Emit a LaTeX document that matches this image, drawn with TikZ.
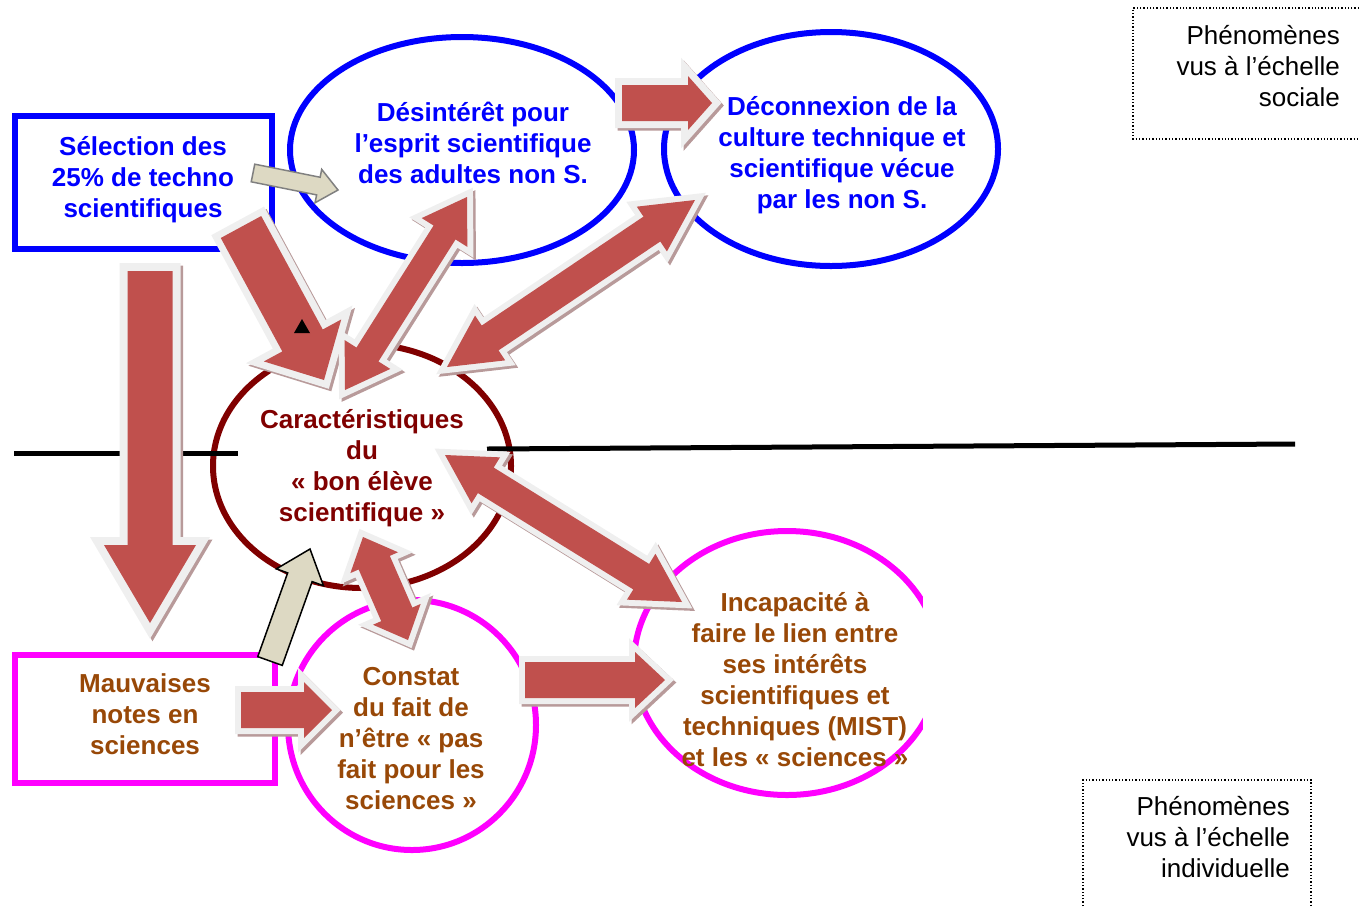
\documentclass[tikz,border=0pt]{standalone}
\usepackage{fontspec}
\setmainfont{Liberation Sans}
\usetikzlibrary{calc,shapes.geometric}

\definecolor{arrowred}{HTML}{C0504D}
\definecolor{glowgray}{HTML}{EFEFEF}
\definecolor{shadowpink}{HTML}{B89A9A}
\definecolor{beige}{HTML}{DDD9C3}
\definecolor{ovalblue}{HTML}{0000FF}
\definecolor{ovalred}{HTML}{800000}
\definecolor{ovalpink}{HTML}{FF00FF}
\definecolor{txtbrown}{HTML}{984807}

% single block arrow: [style]{from}{to}{shaft half width}{head half width}{head length}
\newcommand{\blockarrow}[6][redarr]{%
  \coordinate (ta) at (#2);
  \coordinate (tb) at (#3);
  \coordinate (th) at ($(tb)!#6pt!(ta)$);
  \fill[#1] ($(ta)!#4pt!90:(tb)$) -- ($(th)!#4pt!90:(tb)$) -- ($(th)!#5pt!90:(tb)$)
    -- (tb) -- ($(th)!#5pt!-90:(tb)$) -- ($(th)!#4pt!-90:(tb)$) -- ($(ta)!#4pt!-90:(tb)$) -- cycle;
}
% double block arrow
\newcommand{\dblockarrow}[6][redarr]{%
  \coordinate (ta) at (#2);
  \coordinate (tb) at (#3);
  \coordinate (tha) at ($(ta)!#6pt!(tb)$);
  \coordinate (thb) at ($(tb)!#6pt!(ta)$);
  \fill[#1] (ta) -- ($(tha)!#5pt!90:(tb)$) -- ($(tha)!#4pt!90:(tb)$) -- ($(thb)!#4pt!90:(tb)$)
    -- ($(thb)!#5pt!90:(tb)$) -- (tb) -- ($(thb)!#5pt!-90:(tb)$) -- ($(thb)!#4pt!-90:(tb)$)
    -- ($(tha)!#4pt!-90:(tb)$) -- ($(tha)!#5pt!-90:(tb)$) -- cycle;
}

\tikzset{
  bluebox/.style={rectangle, draw=ovalblue, line width=6pt, inner sep=0pt},
  pinkbox/.style={rectangle, draw=ovalpink, line width=6pt, inner sep=0pt},
  blueell/.style={ellipse, draw=ovalblue, line width=6pt, inner sep=0pt},
  redell/.style={ellipse, draw=ovalred, line width=6pt, inner sep=0pt},
  pinkell/.style={ellipse, draw=ovalpink, line width=6pt, inner sep=0pt},
  label/.style={align=center, font=\fontsize{26}{31}\selectfont\bfseries, inner sep=0pt},
  note/.style={align=right, font=\fontsize{26}{31}\selectfont, inner sep=0pt},
  redarr/.style={fill=arrowred,
    preaction={fill=shadowpink, draw=shadowpink, line width=#1, line join=miter,
      transform canvas={shift={(2.5pt,-2.5pt)}}},
    preaction={fill=glowgray, draw=glowgray, line width=#1, line join=miter}},
  redarr/.default=12pt,
  beigearr/.style={fill=beige, draw=#1, line width=1.5pt, line join=miter},
  beigearr/.default=black,
  sepline/.style={line width=5pt},
  frame/.style={dotted, line width=1.3pt},
}

\begin{document}
\begin{tikzpicture}[x=1pt,y=-1pt]
\useasboundingbox (0,0) rectangle (1359,906);

% boxes and ovals
\node[bluebox, minimum width=257pt, minimum height=133pt] (sel) at (143.5,182.5) {};
\node[blueell, minimum width=344pt, minimum height=226pt] (desint) at (462,150) {};
\node[blueell, minimum width=334pt, minimum height=234pt] (decon) at (831,149) {};
\node[redell, minimum width=298pt, minimum height=244pt] (carac) at (362,466) {};
\node[pinkbox, minimum width=260pt, minimum height=128pt] (mauv) at (145,719) {};
\node[pinkell, minimum width=248pt, minimum height=250pt] (constat) at (412,725) {};
\node[pinkell, minimum width=306pt, minimum height=264pt] (incap) at (787,663) {};
\fill[white] (923,565) rectangle (975,735);

% separation social / individual
\draw[sepline] (14,453) -- (238,453);
\draw[sepline] (487,449) -- (1295,444);

% scale frames
\draw[frame] (1359,8) -- (1133,8) -- (1133,139) -- (1359,139);
\draw[frame] (1083,906) -- (1083,780) -- (1311,780) -- (1311,906);

% arrow ends
\coordinate (v1) at (150,271);  \coordinate (v2) at (150,623);
\coordinate (s1) at (241,227);  \coordinate (s2) at (324,380);
\coordinate (b1) at (253,173);  \coordinate (b2) at (338,190);
\coordinate (h1) at (622,103);  \coordinate (h2) at (712,103);
\coordinate (d1) at (467,197);  \coordinate (d2) at (345,390);
\coordinate (e1) at (695,200);  \coordinate (e2) at (447,367);
\coordinate (i1) at (445,455);  \coordinate (i2) at (682,602);
\coordinate (c1) at (363,537);  \coordinate (c2) at (408,640);
\coordinate (m1) at (270,661);  \coordinate (m2) at (310,549);
\coordinate (n1) at (241,710);  \coordinate (n2) at (332,710);
\coordinate (k1) at (525,680);  \coordinate (k2) at (665,680);

% arrows
\blockarrow[redarr=16pt]{v1}{v2}{22.5}{46}{78}
\blockarrow[redarr=14pt]{s1}{s2}{23}{44}{45}
\fill (294,333) -- (302,319) -- (310,333) -- cycle;
\blockarrow[beigearr=gray]{b1}{b2}{9}{17}{20}
\blockarrow[redarr=14pt]{h1}{h2}{18}{27}{24}
\dblockarrow{d1}{d2}{13}{27}{42}
\dblockarrow{e1}{e2}{15}{27}{52}
\dblockarrow{i1}{i2}{15}{27}{48}
\dblockarrow{c1}{c2}{17}{26}{28}
\blockarrow[beigearr]{m1}{m2}{13}{25}{30}
\blockarrow{n1}{n2}{18}{28}{28}
\blockarrow{k1}{k2}{18}{28}{30}

% texts
\node[label, text=ovalblue] (selT) at (143,180) {Sélection des\\25\% de techno\\scientifiques};
\node[label, text=ovalblue] (desintT) at (473,143) {Désintérêt pour\\l’esprit scientifique\\des adultes non S.};
\node[label, text=ovalblue] (deconT) at (842,155) {Déconnexion de la\\culture technique et\\scientifique vécue\\par les non S.};
\node[label, text=ovalred] (caracT) at (362,468) {Caractéristiques\\du\\« bon élève\\scientifique »};
\node[label, text=txtbrown] (mauvT) at (145,714) {Mauvaises\\notes en\\sciences};
\node[label, text=txtbrown] (constatT) at (411,739) {Constat\\du fait de\\n’être « pas\\fait pour les\\sciences »};
\node[label, text=txtbrown] (incapT) at (795,680) {Incapacité à\\faire le lien entre\\ses intérêts\\scientifiques et\\techniques (MIST)\\et les « sciences »};
\node[note, anchor=east] (socT) at (1340,66) {Phénomènes\\vus à l’échelle\\sociale};
\node[note, anchor=east] (indT) at (1290,837) {Phénomènes\\vus à l’échelle\\individuelle};
\end{tikzpicture}
\end{document}
